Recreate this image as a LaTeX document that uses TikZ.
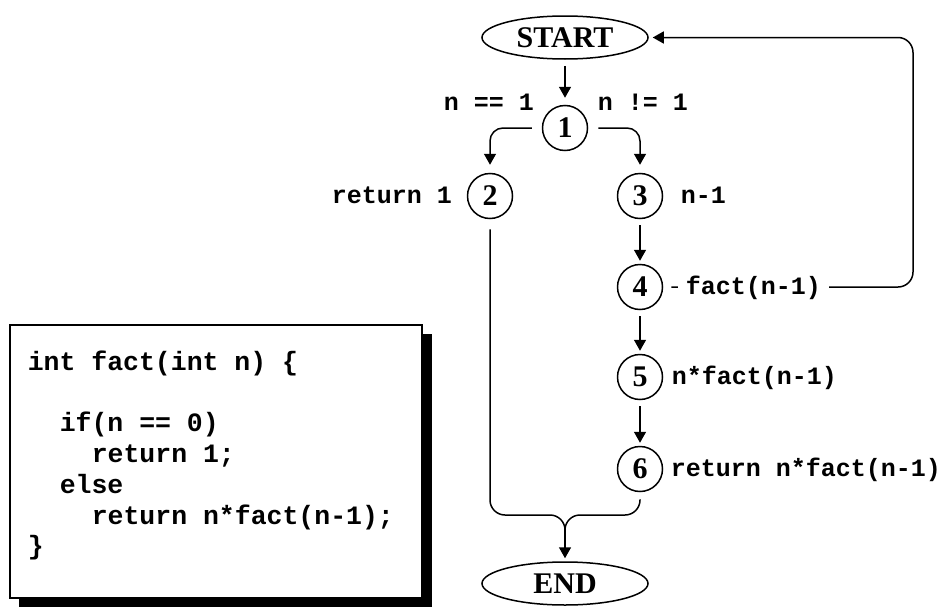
\documentclass[tikz,border=0pt]{standalone}
\usepackage{fontspec}
\setmainfont{Liberation Serif}
\newfontfamily\codefont{Liberation Mono}
\usetikzlibrary{arrows.meta,shapes.geometric}
\begin{document}
\begin{tikzpicture}[x=1pt,y=-1pt,
  line width=1.5pt,
  arr/.style={-{Triangle[width=12pt,length=11pt]}},
  term/.style={ellipse,draw,minimum width=166pt,minimum height=43pt,inner sep=0pt,font=\bfseries\fontsize{30}{30}\selectfont},
  num/.style={circle,draw,minimum size=45pt,inner sep=0pt,font=\bfseries\fontsize{30}{30}\selectfont},
  lbl/.style={anchor=base west,inner sep=0pt,font=\codefont\bfseries\fontsize{25}{25}\selectfont},
  codeline/.style={anchor=base west,inner sep=0pt,font=\codefont\bfseries\fontsize{26.5}{26.5}\selectfont},
]
\useasboundingbox (0,0) rectangle (945,613);

% code box
\fill (19,334) rectangle (432,607);
\draw[fill=white] (10,325) rectangle (422,598);
\node[codeline] (c1) at (27,370) {int fact(int n) \{};
\node[codeline] (c2) at (59,431) {if(n == 0)};
\node[codeline] (c3) at (91,462) {return 1;};
\node[codeline] (c4) at (59,493) {else};
\node[codeline] (c5) at (91,524) {return n*fact(n-1);};
\node[codeline] (c6) at (27,554) {\}};

% flowchart nodes
\node[term] (start) at (565,37.5) {START};
\node[term] (end) at (565,583.5) {END};
\node[num] (n1) at (565,128) {1};
\node[num] (n2) at (490,196) {2};
\node[num] (n3) at (640,196) {3};
\node[num] (n4) at (640,287) {4};
\node[num] (n5) at (640,377) {5};
\node[num] (n6) at (640,469) {6};

% labels
\node[lbl] (l1a) at (443,110) {n == 1};
\node[lbl] (l1b) at (597,110) {n != 1};
\node[lbl] (l2) at (331,203) {return 1};
\node[lbl] (l3) at (680,203) {n-1};
\node[lbl] (l5) at (671,384) {n*fact(n-1)};
\node[lbl] (l6) at (670,476) {return n*fact(n-1)};

% connectors
\draw[arr,shorten <=6pt,shorten >=7pt] (start) -- (n1);
\draw[arr,rounded corners=13pt,shorten <=10pt,shorten >=8pt] (n1.west) -| (n2.north);
\draw[arr,rounded corners=13pt,shorten <=10pt,shorten >=8pt] (n1.east) -| (n3.north);
\draw[arr,shorten <=6pt,shorten >=3pt] (n3) -- (n4);
\draw[arr,shorten <=6pt,shorten >=3pt] (n4) -- (n5);
\draw[arr,shorten <=6pt,shorten >=3pt] (n5) -- (n6);

\coordinate (loopx) at (913,0);
\draw[arr,rounded corners=15pt,shorten <=8pt,shorten >=4pt] (n4.east) -- (n4.east -| loopx) |- (start.east);
\node[lbl,fill=white,inner xsep=8pt,inner ysep=3pt] (l4) at (677,294) {fact(n-1)};

\coordinate (merge) at (565,515);
\coordinate (mergedown) at (565,529);
\draw[rounded corners=15pt,shorten <=10pt] (n2.south) |- (merge) -- (mergedown);
\draw[rounded corners=15pt,shorten <=7pt] (n6.south) |- (merge) -- (mergedown);
\draw[arr,shorten >=3pt] (mergedown) -- (end.north);
\end{tikzpicture}
\end{document}
